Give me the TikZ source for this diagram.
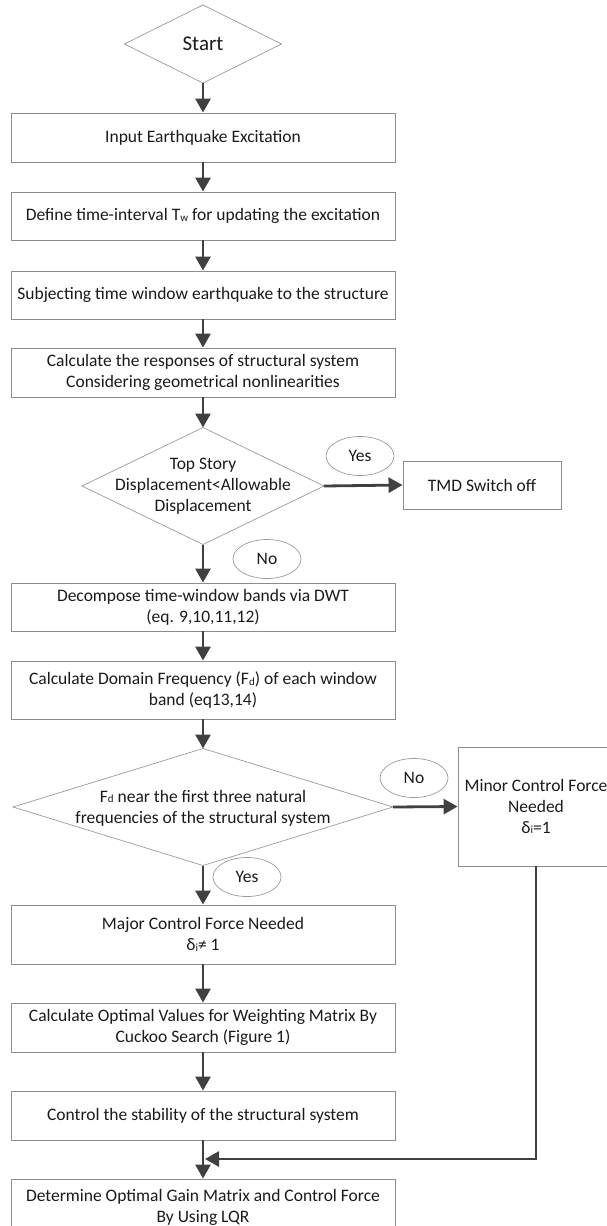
\documentclass[tikz,border=0pt]{standalone}
\usepackage{fontspec}
\setmainfont{Carlito}
\usetikzlibrary{shapes.geometric,arrows.meta}
\definecolor{arrowcol}{HTML}{404040}
\definecolor{boxcol}{HTML}{8C8C8C}
\definecolor{diacol}{HTML}{9A9A9A}
\definecolor{txtcol}{HTML}{1A1A1A}
\newcommand\lowsub[1]{\raisebox{-0.6pt}{\fontsize{11}{11}\selectfont #1}}
\tikzset{
  arr/.style={draw=arrowcol, line width=2.8pt, -{Triangle[width=15pt,length=14pt]}},
  stepbox/.style={draw=boxcol, line width=0.9pt, rectangle, inner sep=0pt, align=center, text=txtcol,
     font=\fontsize{17.5}{21}\selectfont},
  mainbox/.style={stepbox, minimum width=384pt},
  dia/.style={draw=diacol, line width=0.7pt, diamond, inner sep=0pt, outer sep=0pt},
  txt/.style={align=center, text=txtcol, inner sep=0pt, font=\fontsize{17.5}{21}\selectfont},
  oval/.style={draw=diacol, line width=0.7pt, ellipse, inner sep=0pt, minimum width=68pt, minimum height=39pt,
     text=txtcol, font=\fontsize{17.5}{21}\selectfont}
}
\begin{document}
\begin{tikzpicture}[x=1pt,y=-1pt]
\useasboundingbox (0,0) rectangle (606,1226);
% start
\node[dia, minimum width=157pt, minimum height=78pt] (start) at (203,44) {};
\node[txt, font=\fontsize{21}{25}\selectfont] at (start.center) {Start};
% boxes
\node[mainbox, minimum height=49pt] (b1) at (203,137.5) {Input Earthquake Excitation};
\node[mainbox, minimum height=48pt] (b2) at (203,216) {Define time-interval T\lowsub{w} for updating the excitation};
\node[mainbox, minimum height=48pt] (b3) at (203,295) {Subjecting time window earthquake to the structure};
\node[mainbox, minimum height=49pt] (b4) at (203,372.5) {Calculate the responses of structural system\\Considering geometrical nonlinearities};
% decision 1
\node[dia, minimum width=242pt, minimum height=117pt] (d1) at (203,486) {};
\node[txt] at (d1.center) {Top Story\\Displacement<Allowable\\Displacement};
\node[stepbox, minimum width=158pt, minimum height=48pt] (tmd) at (482,485) {TMD Switch off};
\node[oval] (yes1) at (360,456) {Yes};
\node[oval] (no1) at (267,559) {No};
% further boxes
\node[mainbox, minimum height=48pt] (b5) at (203,607) {Decompose time-window bands via DWT\\(eq. 9,10,11,12)};
\node[mainbox, minimum height=58pt] (b6) at (203,690) {Calculate Domain Frequency (F\lowsub{d}) of each window\\band (eq13,14)};
% decision 2
\node[dia, minimum width=380pt, minimum height=117pt] (d2) at (203,807) {};
\node[txt] at (203,808) {F\lowsub{d} near the first three natural\\frequencies of the structural system};
\node[stepbox, minimum width=156pt, minimum height=119pt] (minor) at (536,806.5) {Minor Control Force\\Needed\\δ\lowsub{i}=1};
\node[oval] (no2) at (414,778) {No};
\node[oval] (yes2) at (247,877) {Yes};
\node[mainbox, minimum height=59pt] (major) at (203,934.5) {Major Control Force Needed\\δ\lowsub{i}≠ 1};
\node[mainbox, minimum height=49pt] (b7) at (203,1027.5) {Calculate Optimal Values for Weighting Matrix By\\Cuckoo Search (Figure 1)};
\node[mainbox, minimum height=49pt] (b8) at (203,1115.5) {Control the stability of the structural system};
\node[mainbox, minimum height=56pt] (b9) at (203,1207) {Determine Optimal Gain Matrix and Control Force\\By Using LQR};
\coordinate (join) at (205,1159);
% connectors
\draw[arr] (start.south) -- (b1.north);
\draw[arr] (b1) -- (b2);
\draw[arr] (b2) -- (b3);
\draw[arr] (b3) -- (b4);
\draw[arr] (b4) -- (d1.north);
\draw[arr] (d1.east) -- (tmd.west);
\draw[arr] (d1.south) -- (b5.north);
\draw[arr] (b5) -- (b6);
\draw[arr] (b6) -- (d2.north);
\draw[arr] (d2.east) -- (minor.west);
\draw[arr] (d2.south) -- (major.north);
\draw[arr] (major) -- (b7);
\draw[arr] (b7) -- (b8);
\draw[arr] (b8) -- (b9);
\draw[arr] (minor.south) |- (join);
\end{tikzpicture}
\end{document}
